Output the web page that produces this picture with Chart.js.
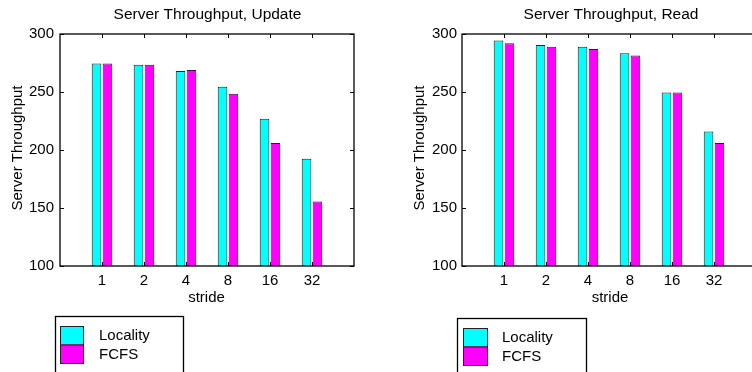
<!DOCTYPE html>
<html>
<head>
<meta charset="utf-8">
<script src="https://cdn.jsdelivr.net/npm/chart.js@4/dist/chart.umd.min.js"></script>
<style>
  html, body { margin: 0; padding: 0; background: #fff; overflow: hidden; width: 752px; height: 372px; }
  canvas { position: absolute; top: 0; }
  #cUpdate { left: 0; }
  #cRead { left: 376px; }
</style>
</head>
<body>
<canvas id="cUpdate" width="376" height="372"></canvas>
<canvas id="cRead" width="400" height="372"></canvas>
<script>
// Stride values on the x axis
const strides = ['1', '2', '4', '8', '16', '32'];
const seriesNames = ['Locality', 'FCFS'];

// Update workload
const updateLocality = [274.5, 273.5, 268, 254.5, 227, 192.5];
const updateFCFS     = [274.5, 273.5, 269, 248.5, 206, 155.5];

// Read workload
const readLocality = [294.5, 290.5, 289, 283.5, 249.5, 216];
const readFCFS     = [292, 289, 287, 281.5, 249.5, 206];

// Y axis ticks
const yTicks = [100, 150, 200, 250, 300];

const FONT = "'Liberation Sans', Arial, Helvetica, sans-serif";
const CYAN = '#00ffff';
const MAGENTA = '#ff00ff';

// Pad the category axis with an empty slot on each side (x range 0..7)
function padded(arr, fill) { return [fill].concat(arr, [fill]); }

// Axes box, inward tick marks, titles and legend box
const decorations = {
  id: 'decorations',
  afterDatasetsDraw(chart, args, opts) {
    const ctx = chart.ctx;
    const a = chart.chartArea;
    const xs = chart.scales.x, ys = chart.scales.y;
    ctx.save();
    ctx.strokeStyle = '#000';
    ctx.lineWidth = 1.3;
    ctx.strokeRect(a.left, a.top, a.right - a.left, a.bottom - a.top);
    const tl = 4;
    ctx.lineWidth = 1;
    ctx.beginPath();
    yTicks.forEach(v => {
      const py = Math.round(ys.getPixelForValue(v)) + 0.5;
      ctx.moveTo(a.left, py); ctx.lineTo(a.left + tl, py);
      ctx.moveTo(a.right, py); ctx.lineTo(a.right - tl, py);
    });
    strides.forEach((s, i) => {
      const px = Math.round(xs.getPixelForValue(i + 1)) + 0.5;
      ctx.moveTo(px, a.bottom); ctx.lineTo(px, a.bottom - tl);
      ctx.moveTo(px, a.top); ctx.lineTo(px, a.top + tl);
    });
    ctx.stroke();

    // Titles
    ctx.fillStyle = '#000';
    ctx.textAlign = 'center';
    ctx.textBaseline = 'middle';
    ctx.font = '15.5px ' + FONT;
    ctx.fillText(opts.title, opts.titleX, 15);
    ctx.font = '15px ' + FONT;
    ctx.fillText('stride', opts.titleX - 1, 298);
    ctx.save();
    ctx.translate(opts.yLabelX, 148);
    ctx.rotate(-Math.PI / 2);
    ctx.fillText('Server Throughput', 0, 0);
    ctx.restore();

    // Legend box
    const L = opts.legend;
    ctx.lineWidth = 1.3;
    ctx.strokeStyle = '#000';
    ctx.strokeRect(L.x, L.y, L.w, 80);
    const colors = [CYAN, MAGENTA];
    seriesNames.forEach((name, i) => {
      const sy = L.sy + i * L.sh;
      ctx.fillStyle = colors[i];
      ctx.fillRect(L.sx, sy, L.sw, L.sh);
      ctx.lineWidth = 1;
      ctx.strokeStyle = '#222';
      ctx.strokeRect(L.sx + 0.5, sy + 0.5, L.sw, L.sh);
      ctx.fillStyle = '#000';
      ctx.textAlign = 'left';
      ctx.textBaseline = 'middle';
      ctx.fillText(name, L.tx, sy + L.sh / 2 + 1);
    });
    ctx.restore();
  }
};

function makeChart(id, locality, fcfs, cfg) {
  return new Chart(document.getElementById(id), {
    type: 'bar',
    data: {
      labels: padded(strides, ''),
      datasets: [
        { label: seriesNames[0], data: padded(locality, null), backgroundColor: CYAN, borderColor: '#222', borderWidth: 1 },
        { label: seriesNames[1], data: padded(fcfs, null), backgroundColor: MAGENTA, borderColor: '#222', borderWidth: 1 }
      ]
    },
    options: {
      responsive: false,
      animation: false,
      devicePixelRatio: 1,
      categoryPercentage: 0.52,
      barPercentage: 0.88,
      layout: { padding: { left: 0, top: 34, right: cfg.padRight, bottom: 0 } },
      plugins: {
        legend: { display: false },
        tooltip: { enabled: false },
        title: { display: false },
        decorations: cfg.deco
      },
      scales: {
        x: {
          type: 'category',
          offset: false,
          grid: { display: false, drawTicks: false },
          border: { display: false },
          ticks: { color: '#000', font: { family: FONT, size: 15 }, padding: 6, maxRotation: 0, autoSkip: false },
          afterFit(s) { s.height = 106; }
        },
        y: {
          min: 100, max: 300,
          grid: { display: false, drawTicks: false },
          border: { display: false },
          afterBuildTicks(s) { s.ticks = yTicks.map(v => ({ value: v })); },
          ticks: { color: '#000', font: { family: FONT, size: 15 }, padding: cfg.yPad },
          afterFit(s) { s.width = cfg.yWidth; }
        }
      }
    },
    plugins: [decorations]
  });
}

makeChart('cUpdate', updateLocality, updateFCFS, {
  padRight: 22, yWidth: 60, yPad: 6,
  deco: {
    title: 'Server Throughput, Update', titleX: 207.5, yLabelX: 18,
    legend: { x: 55.5, y: 316.5, w: 128, sx: 60, sy: 326, sw: 23, sh: 18.5, tx: 99 }
  }
});

makeChart('cRead', readLocality, readFCFS, {
  padRight: 20, yWidth: 86, yPad: 5,
  deco: {
    title: 'Server Throughput, Read', titleX: 235, yLabelX: 43.5,
    legend: { x: 81.5, y: 318.5, w: 129, sx: 87, sy: 328, sw: 24, sh: 18.5, tx: 126 }
  }
});
</script>
</body>
</html>
